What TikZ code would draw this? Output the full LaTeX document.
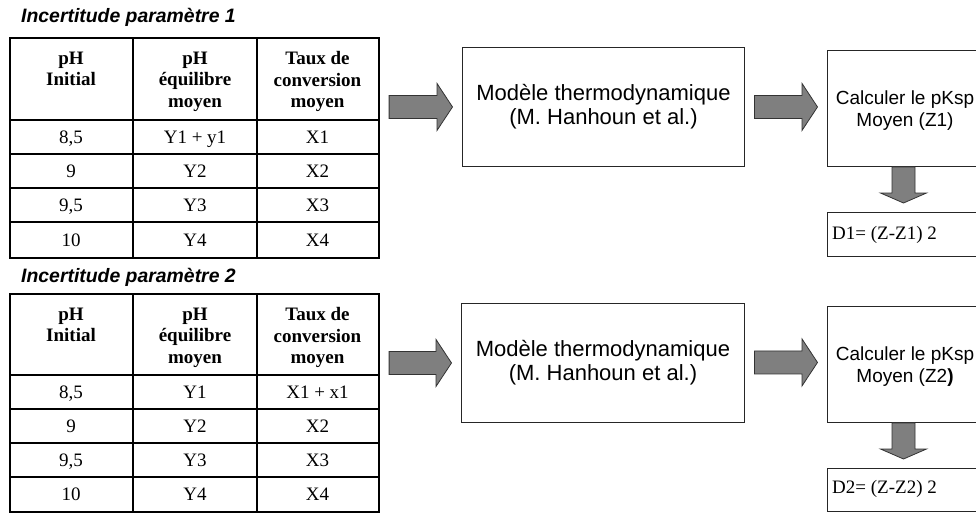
\documentclass[tikz,border=0pt]{standalone}
\usepackage{fontspec}
\setmainfont{Liberation Serif}
\newfontfamily\arialf{Liberation Sans}
\usetikzlibrary{calc}
\definecolor{arrgray}{HTML}{7F7F7F}
\tikzset{
  tabline/.style={line width=1.6pt, black},
  tabframe/.style={draw, line width=1.6pt, black, inner sep=0pt, anchor=north west},
  headtxt/.style={font=\fontsize{19}{21.5}\selectfont\bfseries, align=center, inner sep=0pt, anchor=north},
  celltxt/.style={font=\fontsize{19}{21.5}\selectfont, inner sep=0pt, anchor=base},
  titletxt/.style={font=\arialf\fontsize{19.4}{21}\selectfont\bfseries\itshape, inner sep=0pt, anchor=west},
  procbox/.style={draw=black!85, line width=0.9pt, inner sep=0pt, anchor=north west},
  boxtxt/.style={font=\arialf\fontsize{22}{24}\selectfont, align=center, inner sep=0pt},
  calctxt/.style={font=\arialf\fontsize{19}{22.5}\selectfont, align=center, inner sep=0pt},
  dtxt/.style={font=\fontsize{19}{21}\selectfont, inner sep=0pt, anchor=west},
  bigarrow/.style={fill=arrgray, draw=black!80, line width=0.8pt, line join=miter},
}
% horizontal block arrow from node #1 (east side) to node #2 (west side), at height of #2's centre shifted by #3
\newcommand\hblockarrow[3]{%
  \coordinate (ha-s) at ($(#1.east |- #2.west)+(9.5,#3)$);
  \coordinate (ha-t) at ($(#2.west)+(-9.5,#3)$);
  \draw[bigarrow] ($(ha-s)+(0,-11.5)$) -- ($(ha-t)+(-15.5,-11.5)$) -- ($(ha-t)+(-15.5,-23.5)$)
     -- (ha-t) -- ($(ha-t)+(-15.5,23.5)$) -- ($(ha-t)+(-15.5,11.5)$) -- ($(ha-s)+(0,11.5)$) -- cycle;
}
% vertical block arrow from node #1 (bottom side) to node #2 (top side)
\newcommand\vblockarrow[2]{%
  \coordinate (va-s) at ($(#1.south west)+(76.5,0)$);
  \coordinate (va-t) at ($(#2.north west)+(76.5,-9)$);
  \draw[bigarrow] ($(va-s)+(-11.5,0)$) -- ($(va-t)+(-11.5,-10)$) -- ($(va-t)+(-23,-10)$)
     -- (va-t) -- ($(va-t)+(23,-10)$) -- ($(va-t)+(11.5,-10)$) -- ($(va-s)+(11.5,0)$) -- cycle;
}
\begin{document}
\begin{tikzpicture}[x=1pt,y=-1pt]
\useasboundingbox (0,0) rectangle (976,512);

% ---------------- block 1 ----------------
\node[titletxt] (ti1) at (21,17) {Incertitude paramètre 1};
\node[tabframe, minimum width=369pt, minimum height=220pt] (tab1) at (9,37) {};
\draw[tabline] (133,37) -- (133,257) (257,37) -- (257,257);
\draw[tabline] (9,120) -- (378,120) (9,154) -- (378,154) (9,188) -- (378,188) (9,222) -- (378,222);
\node[headtxt] (h11) at (71,51.5) {pH\\Initial};
\node[headtxt] (h12) at (195,51.5) {pH\\équilibre\\moyen};
\node[headtxt] (h13) at (317.5,51.5) {Taux de\\conversion\\moyen};
\node[celltxt] (a11) at (71,143.5) {8,5};
\node[celltxt] (b11) at (195,143.5) {Y1 + y1};
\node[celltxt] (c11) at (317.5,143.5) {X1};
\node[celltxt] (a12) at (71,177.5) {9};
\node[celltxt] (b12) at (195,177.5) {Y2};
\node[celltxt] (c12) at (317.5,177.5) {X2};
\node[celltxt] (a13) at (71,211.5) {9,5};
\node[celltxt] (b13) at (195,211.5) {Y3};
\node[celltxt] (c13) at (317.5,211.5) {X3};
\node[celltxt] (a14) at (71,246) {10};
\node[celltxt] (b14) at (195,246) {Y4};
\node[celltxt] (c14) at (317.5,246) {X4};

\node[procbox, minimum width=282pt, minimum height=119pt] (m1) at (462,47) {};
\node[boxtxt] (m1t) at (m1.center) {Modèle thermodynamique\\(M. Hanhoun et al.)};
\node[procbox, minimum width=170pt, minimum height=116pt] (c1) at (827,50) {};
\node[calctxt] (c1t) at ($(c1.west)+(78,2)$) {Calculer le pKsp\\Moyen (Z1)};
\node[procbox, minimum width=170pt, minimum height=44pt] (d1) at (827,212) {};
\node[dtxt] (d1t) at ($(d1.west)+(5,0)$) {D1= (Z-Z1) 2};

\hblockarrow{tab1}{m1}{0}
\hblockarrow{m1}{c1}{-1.5}
\vblockarrow{c1}{d1}

% ---------------- block 2 ----------------
\node[titletxt] (ti2) at (21,277) {Incertitude paramètre 2};
\node[tabframe, minimum width=369pt, minimum height=218pt] (tab2) at (9,293) {};
\draw[tabline] (133,293) -- (133,511) (257,293) -- (257,511);
\draw[tabline] (9,375) -- (378,375) (9,409) -- (378,409) (9,443) -- (378,443) (9,477) -- (378,477);
\node[headtxt] (h21) at (71,307.5) {pH\\Initial};
\node[headtxt] (h22) at (195,307.5) {pH\\équilibre\\moyen};
\node[headtxt] (h23) at (317.5,307.5) {Taux de\\conversion\\moyen};
\node[celltxt] (a21) at (71,398.5) {8,5};
\node[celltxt] (b21) at (195,398.5) {Y1};
\node[celltxt] (c21) at (317.5,398.5) {X1 + x1};
\node[celltxt] (a22) at (71,432.5) {9};
\node[celltxt] (b22) at (195,432.5) {Y2};
\node[celltxt] (c22) at (317.5,432.5) {X2};
\node[celltxt] (a23) at (71,466.5) {9,5};
\node[celltxt] (b23) at (195,466.5) {Y3};
\node[celltxt] (c23) at (317.5,466.5) {X3};
\node[celltxt] (a24) at (71,500.5) {10};
\node[celltxt] (b24) at (195,500.5) {Y4};
\node[celltxt] (c24) at (317.5,500.5) {X4};

\node[procbox, minimum width=283pt, minimum height=119pt] (m2) at (461,303) {};
\node[boxtxt] (m2t) at (m2.center) {Modèle thermodynamique\\(M. Hanhoun et al.)};
\node[procbox, minimum width=170pt, minimum height=116pt] (c2) at (827,306) {};
\node[calctxt] (c2t) at ($(c2.west)+(78,2)$) {Calculer le pKsp\\Moyen (Z2{\bfseries )}};
\node[procbox, minimum width=170pt, minimum height=43pt] (d2) at (827,468) {};
\node[dtxt] (d2t) at ($(d2.west)+(5,-1)$) {D2= (Z-Z2) 2};

\hblockarrow{tab2}{m2}{0}
\hblockarrow{m2}{c2}{-2}
\vblockarrow{c2}{d2}
\end{tikzpicture}
\end{document}
